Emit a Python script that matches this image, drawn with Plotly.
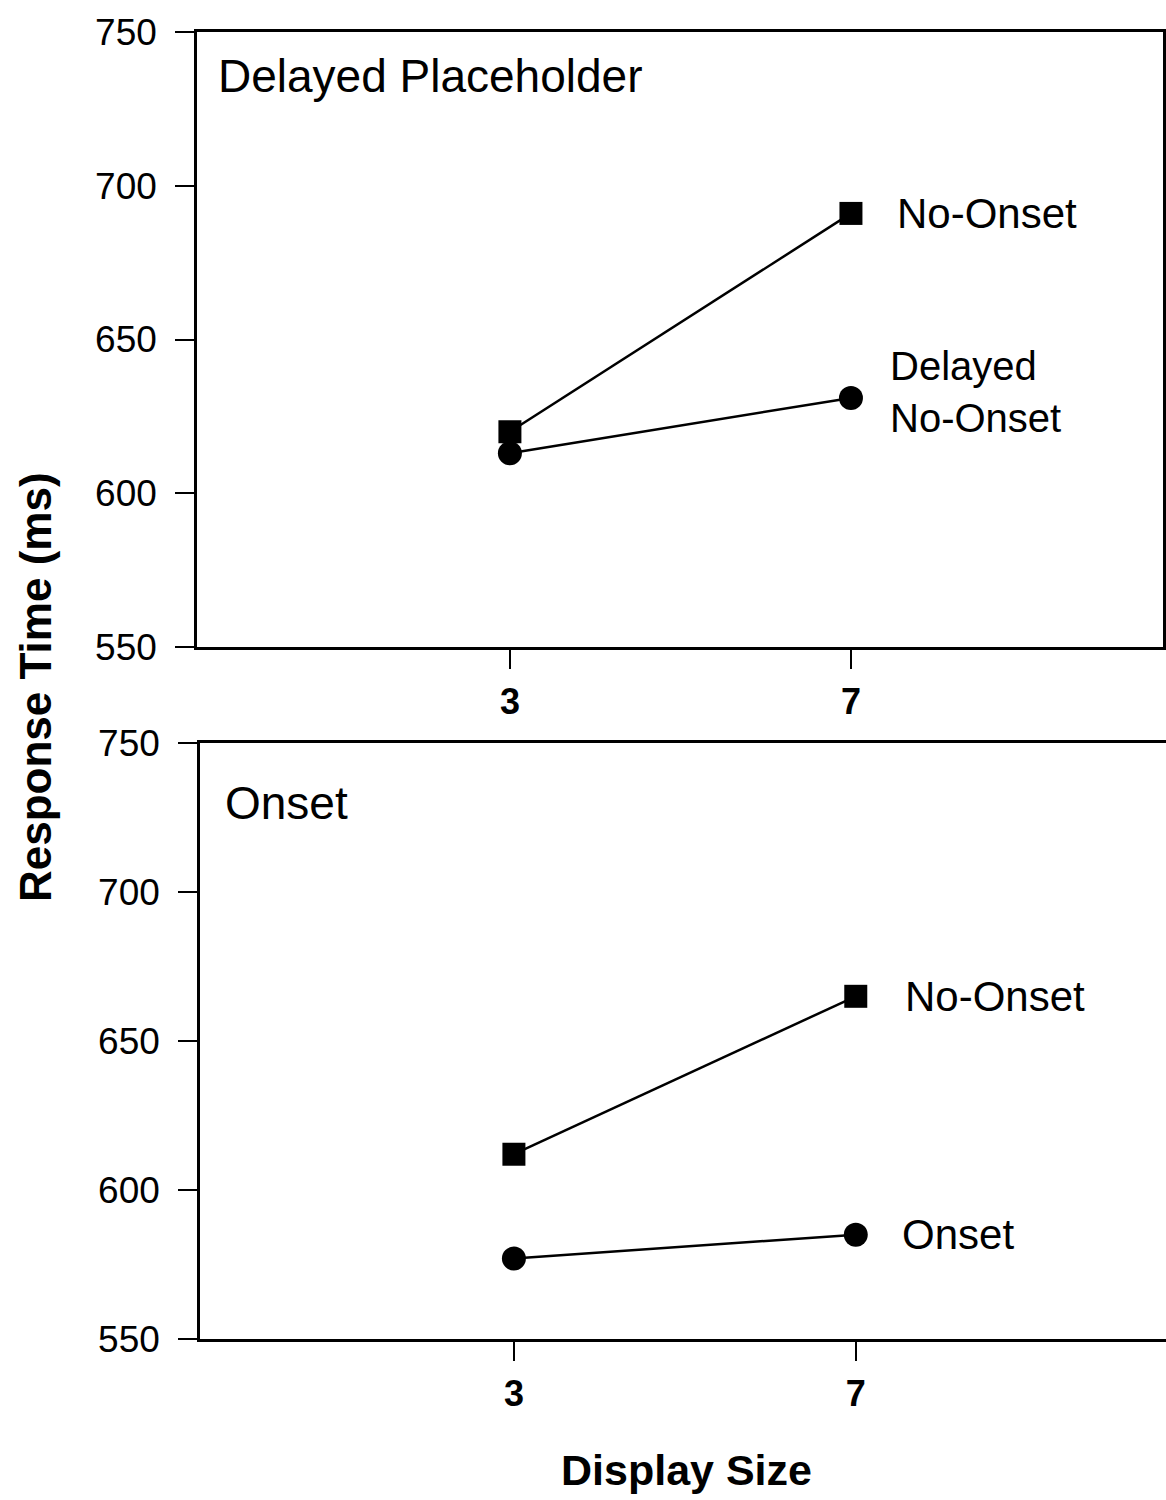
import plotly.graph_objects as go

# ---- data ----
display_size = [3, 7]
top_no_onset = [620, 691]
top_delayed_no_onset = [613, 631]
bot_no_onset = [612, 665]
bot_onset = [577, 585]
y_ticks = [550, 600, 650, 700, 750]
x_ticks = [3, 7]

FONT = "Liberation Sans, Arial, Helvetica, sans-serif"
W, H = 1166, 1500

def px_x(p):
    return p / W

def px_y(p):
    return 1 - p / H

fig = go.Figure()

line_style = dict(color="black", width=2.5)
sq = dict(symbol="square", size=23, color="black")
ci = dict(symbol="circle", size=24, color="black")

fig.add_trace(go.Scatter(x=display_size, y=top_no_onset, mode="lines+markers",
                         line=line_style, marker=sq, xaxis="x", yaxis="y", showlegend=False))
fig.add_trace(go.Scatter(x=display_size, y=top_delayed_no_onset, mode="lines+markers",
                         line=line_style, marker=ci, xaxis="x", yaxis="y", showlegend=False))
fig.add_trace(go.Scatter(x=display_size, y=bot_no_onset, mode="lines+markers",
                         line=line_style, marker=sq, xaxis="x2", yaxis="y2", showlegend=False))
fig.add_trace(go.Scatter(x=display_size, y=bot_onset, mode="lines+markers",
                         line=line_style, marker=ci, xaxis="x2", yaxis="y2", showlegend=False))

axis_common = dict(showgrid=False, zeroline=False, showline=True, linecolor="black",
                   linewidth=2.5, ticks="outside", tickcolor="black", tickwidth=2,
                   ticklen=19, automargin=False)

xtickfont = dict(family=FONT, size=36, color="black", weight="bold")
ytickfont = dict(family=FONT, size=37, color="black")

fig.update_layout(
    width=W, height=H,
    margin=dict(l=0, r=0, t=0, b=0, pad=0, autoexpand=False),
    paper_bgcolor="white", plot_bgcolor="white",
    xaxis=dict(domain=[px_x(197), px_x(1163)], range=[-0.67, 10.66],
               tickvals=x_ticks, tickfont=xtickfont, mirror=True,
               ticklabelstandoff=2, anchor="y", **axis_common),
    yaxis=dict(domain=[px_y(647), px_y(32)], range=[550, 750],
               tickvals=y_ticks, tickfont=ytickfont, mirror=True,
               ticklabelstandoff=11, anchor="x", **axis_common),
    xaxis2=dict(domain=[px_x(200), 1.0], range=[-0.673, 10.63],
                tickvals=x_ticks, tickfont=xtickfont, mirror=True,
                ticklabelstandoff=2, anchor="y2", **axis_common),
    yaxis2=dict(domain=[px_y(1339), px_y(743)], range=[550, 750],
                tickvals=y_ticks, tickfont=ytickfont, mirror=False,
                ticklabelstandoff=11, anchor="x2", **axis_common),
)

ann_font = dict(family=FONT, size=42, color="black")
title_font = dict(family=FONT, size=46, color="black")
annotations = [
    # panel titles
    dict(text="Delayed Placeholder", xref="paper", yref="paper", x=px_x(216), y=px_y(76),
         xanchor="left", yanchor="middle", showarrow=False, font=title_font),
    dict(text="Onset", xref="paper", yref="paper", x=px_x(223), y=px_y(803),
         xanchor="left", yanchor="middle", showarrow=False, font=title_font),
    # series labels, anchored at last point of each series
    dict(text="No-Onset", xref="x", yref="y", x=display_size[-1], y=top_no_onset[-1],
         xanchor="left", yanchor="middle", xshift=44, showarrow=False, font=ann_font),
    dict(text="Delayed<br>No-Onset", xref="x", yref="y", x=display_size[-1],
         y=top_delayed_no_onset[-1], xanchor="left", yanchor="middle", align="left",
         xshift=37, yshift=6, showarrow=False,
         font=dict(family=FONT, size=40, color="black")),
    dict(text="No-Onset", xref="x2", yref="y2", x=display_size[-1], y=bot_no_onset[-1],
         xanchor="left", yanchor="middle", xshift=47, showarrow=False, font=ann_font),
    dict(text="Onset", xref="x2", yref="y2", x=display_size[-1], y=bot_onset[-1],
         xanchor="left", yanchor="middle", xshift=44, showarrow=False, font=ann_font),
    # axis titles
    dict(text="Response Time (ms)", xref="paper", yref="paper", x=px_x(35), y=px_y(687),
         xanchor="center", yanchor="middle", textangle=-90, showarrow=False,
         font=dict(family=FONT, size=44, color="black", weight="bold")),
    dict(text="Display Size", xref="paper", yref="paper", x=px_x(686), y=px_y(1470),
         xanchor="center", yanchor="middle", showarrow=False,
         font=dict(family=FONT, size=43, color="black", weight="bold")),
]
fig.update_layout(annotations=annotations)

fig.write_html(
    "out.html",
    config={"displayModeBar": False},
    post_script="document.body.style.margin='0';document.body.style.overflow='hidden';",
)
